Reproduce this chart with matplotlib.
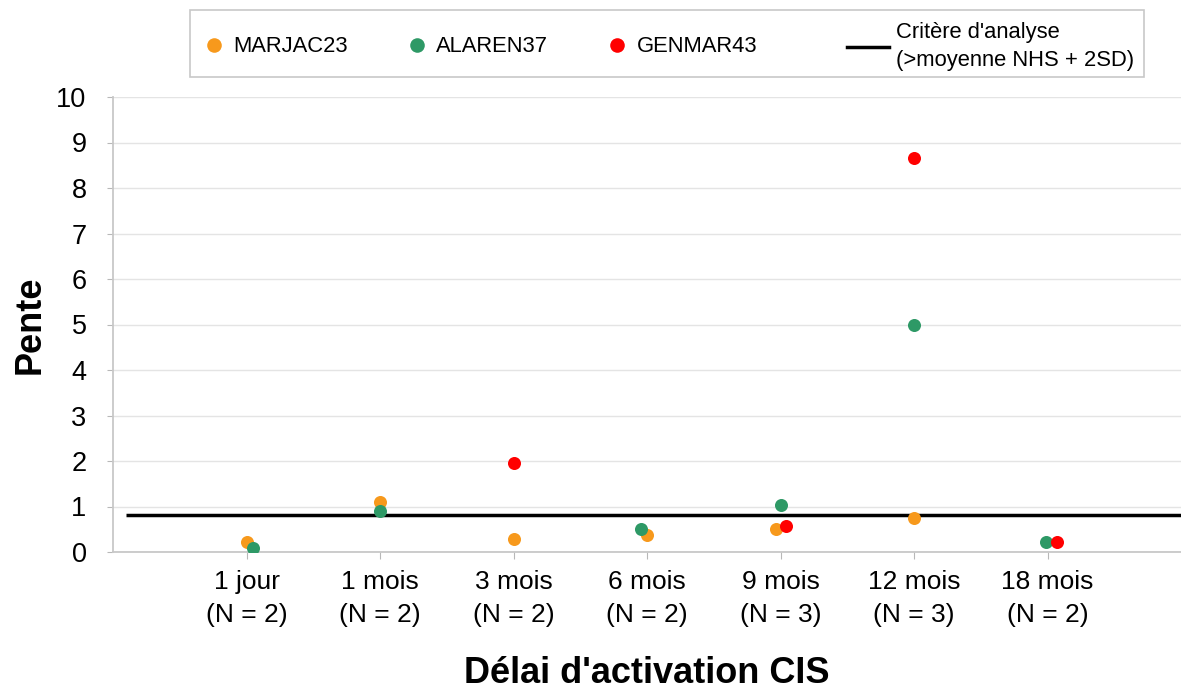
import matplotlib
matplotlib.use("Agg")
import matplotlib.pyplot as plt
from matplotlib.lines import Line2D
from matplotlib.patches import Rectangle
import numpy as np

plt.rcParams['font.family'] = ['Liberation Sans', 'DejaVu Sans']

categories = ["1 jour\n(N = 2)", "1 mois\n(N = 2)", "3 mois\n(N = 2)", "6 mois\n(N = 2)",
              "9 mois\n(N = 3)", "12 mois\n(N = 3)", "18 mois\n(N = 2)"]

# values per category (None = no measurement)
marjac23 = [0.21, 1.10, 0.28, 0.37, 0.51, 0.74, None]
alaren37 = [0.08, 0.90, None, 0.51, 1.04, 5.00, 0.21]
genmar43 = [None, None, 1.96, None, 0.57, 8.66, 0.21]

# small horizontal jitter used in the original to separate overlapping points
marjac23_dx = [0.0, 0.0, 0.0, 0.0, -0.035, 0.0, 0.0]
alaren37_dx = [0.05, 0.0, 0.0, -0.045, 0.0, 0.0, -0.01]
genmar43_dx = [0.0, 0.0, 0.0, 0.0, 0.04, 0.0, 0.07]

criterion = 0.81
criterion_label = "Critère d'analyse\n(>moyenne NHS + 2SD)"

series = [
    ("MARJAC23", marjac23, marjac23_dx, "#F7991C"),
    ("ALAREN37", alaren37, alaren37_dx, "#2E9966"),
    ("GENMAR43", genmar43, genmar43_dx, "#FF0000"),
]

W, H = 1181, 690
fig = plt.figure(figsize=(W / 100, H / 100), dpi=100)
ax = fig.add_axes([113 / W, 1 - 552 / H, 1 - 113 / W, (552 - 97) / H])

pos = np.arange(1, len(categories) + 1)
for name, vals, dx, col in series:
    xs = [p + d for p, v, d in zip(pos, vals, dx) if v is not None]
    ys = [v for v in vals if v is not None]
    ax.scatter(xs, ys, s=88, color=col, label=name, zorder=4, linewidths=0)

ax.hlines(criterion, 0.1, 8, color="black", linewidth=2.5, zorder=3)

ax.set_xlim(0, 8)
ax.set_ylim(0, 10)
ax.set_yticks(range(0, 11))
ax.set_xticks(pos)
ax.set_xticklabels(categories, fontsize=19, linespacing=1.45)
ax.tick_params(axis='y', labelsize=19.5, length=4, color="#b8b8b8", pad=15)
ax.tick_params(axis='x', length=5, color="#b8b8b8", pad=8)
ax.yaxis.grid(True, color="#e4e4e4", linewidth=1.0)
ax.set_axisbelow(True)
for s in ["top", "right"]:
    ax.spines[s].set_visible(False)
for s in ["left", "bottom"]:
    ax.spines[s].set_color("#c8c8c8")
    ax.spines[s].set_linewidth(1.3)

ax.set_ylabel("Pente", fontsize=26, fontweight="bold", labelpad=6)
ax.set_xlabel("Délai d'activation CIS", fontsize=26, fontweight="bold", labelpad=21)

# legend frame
fig.add_artist(Rectangle((190 / W, 1 - 77 / H), (1144 - 190) / W, (77 - 10) / H,
                         transform=fig.transFigure, facecolor="white",
                         edgecolor="#c8c8c8", linewidth=1.2, zorder=1))

marker_handles = [Line2D([], [], marker='o', linestyle='none', markersize=10.5,
                         markerfacecolor=c, markeredgewidth=0) for _, _, _, c in series]
leg1 = fig.legend(marker_handles, [n for n, _, _, _ in series], ncol=3,
                  loc="center left", bbox_to_anchor=(203 / W, 1 - 47 / H),
                  fontsize=15.8, frameon=False, borderpad=0, borderaxespad=0,
                  handlelength=1.0, handletextpad=0.38, columnspacing=2.65)

line_handle = [Line2D([], [], color="black", linewidth=2.5)]
leg2 = fig.legend(line_handle, [criterion_label], loc="center left",
                  bbox_to_anchor=(847 / W, 1 - 46.5 / H), fontsize=15.8,
                  frameon=False, borderpad=0, borderaxespad=0,
                  handlelength=1.9, handletextpad=0.33)
for t in leg2.get_texts():
    t.set_linespacing(1.45)

fig.savefig("out.png", dpi=100)
